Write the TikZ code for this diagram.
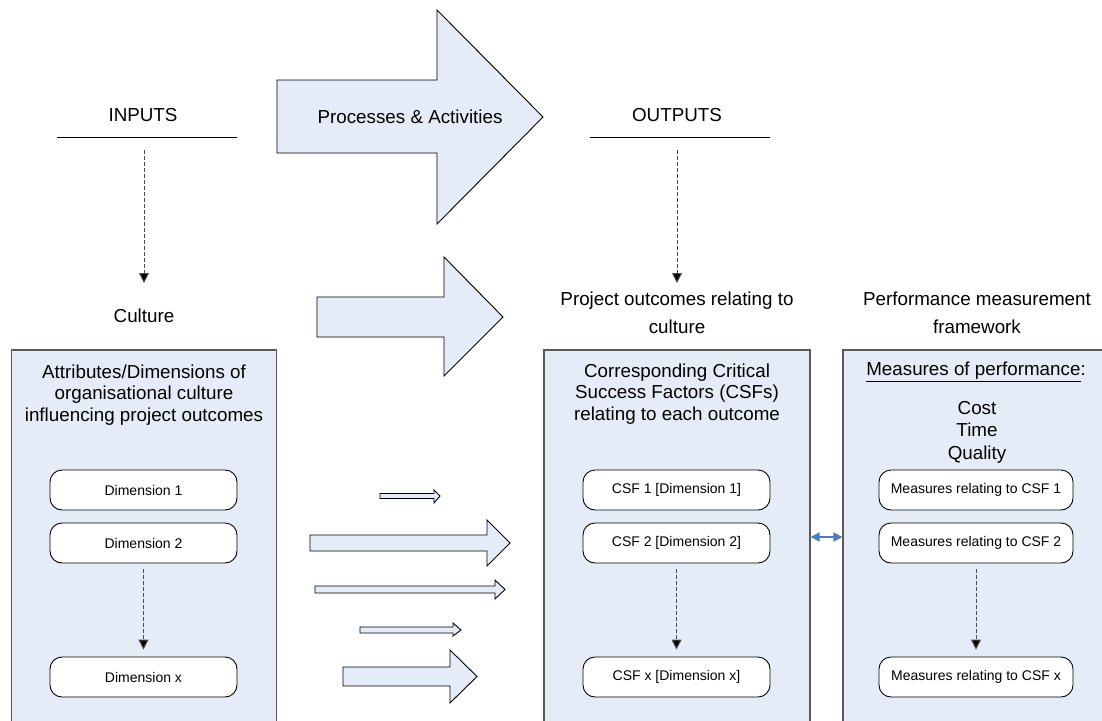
\documentclass[tikz,border=0pt]{standalone}
\usepackage{fontspec}
\setmainfont{Liberation Sans}
\usetikzlibrary{arrows.meta}
\definecolor{panelfill}{HTML}{E6ECF7}
\definecolor{panelline}{HTML}{5A5A5A}
\definecolor{linkblue}{HTML}{4A7CC6}
\newcommand{\bigfont}{\fontsize{18.8}{21.8}\selectfont}
\newcommand{\smallfont}{\fontsize{14}{16}\selectfont}
\newcommand{\blockarr}[8]{%
  \filldraw[blockarrow] (#1,#2) -- (#4,#2) -- (#4,#5) -- (#7,#8) -- (#4,#6) -- (#4,#3) -- (#1,#3) -- cycle;}
\tikzset{
  panel/.style={draw=panelline, fill=panelfill, line width=1.2pt, minimum height=374pt, inner sep=0pt},
  roundbox/.style={draw=black, fill=white, rounded corners=12pt, line width=0.9pt, minimum width=187pt, minimum height=40pt, inner sep=0pt, font=\smallfont},
  bigtext/.style={font=\bigfont, align=center, inner sep=0pt},
  blockarrow/.style={draw=black, fill=panelfill, line width=0.9pt, line join=miter},
  dasharrow/.style={draw=black!70, line width=1pt, dash pattern=on 4pt off 2pt, -{Triangle[width=10pt,length=10pt,fill=black]}},
  headline/.style={draw=black, line width=1pt},
  bluelink/.style={draw=linkblue, line width=1.5pt, {Triangle[width=9pt,length=9pt]}-{Triangle[width=9pt,length=9pt]}}
}
\begin{document}
\begin{tikzpicture}[x=1pt,y=-1pt]
\useasboundingbox (0,0) rectangle (1102,720);
\clip (0,0) rectangle (1102,720);
\fill[white] (0,0) rectangle (1102,720);
% big process arrows
\blockarr{277}{80}{153}{437}{10}{224}{543}{117}
\node[bigtext] (proc) at (410,117) {Processes \& Activities};
\blockarr{317}{297}{337}{444}{257}{376}{503}{317}
% headers
\node[bigtext] (inputs) at (143,115) {INPUTS};
\node[bigtext] (outputs) at (677,115) {OUTPUTS};
\coordinate (inL) at (57,137); \coordinate (inR) at (237,137);
\coordinate (outL) at (590,137); \coordinate (outR) at (770,137);
\draw[headline] (inL) -- (inR);
\draw[headline] (outL) -- (outR);
\coordinate (inS) at (144,150); \coordinate (inE) at (144,283);
\coordinate (outS) at (677,150); \coordinate (outE) at (677,283);
\draw[dasharrow] (inS) -- (inE);
\draw[dasharrow] (outS) -- (outE);
% column headings
\node[bigtext] (culture) at (144,316) {Culture};
\node[bigtext, font=\fontsize{18.8}{28.5}\selectfont] (projout) at (677,313) {Project outcomes relating to\\culture};
\node[bigtext, font=\fontsize{18.8}{28.5}\selectfont] (pmf) at (977,313) {Performance measurement\\framework};
% panels
\node[panel, minimum width=265pt] (left) at (144.2,537) {};
\node[panel, minimum width=266pt] (mid) at (677,537) {};
\node[panel, minimum width=269pt] (right) at (977.5,537) {};
\draw[bluelink] (mid.east) -- (right.west);
% panel titles
\node[bigtext] (lt) at (144,395) {Attributes/Dimensions of\\organisational culture\\influencing project outcomes};
\node[bigtext] (mt) at (677,394) {Corresponding Critical\\Success Factors (CSFs)\\relating to each outcome};
\node[bigtext] (rt) at (976,372) {\underline{Measures of performance}:};
\node[bigtext, font=\fontsize{18.8}{22.5}\selectfont] (ctq) at (977,432) {Cost\\Time\\Quality};
% rounded boxes
\node[roundbox] (d1) at (143.5,490) {Dimension 1};
\node[roundbox] (d2) at (143.5,543) {Dimension 2};
\node[roundbox] (dx) at (143.5,677) {Dimension x};
\node[roundbox] (c1) at (676.5,490) {CSF 1 [Dimension 1]};
\node[roundbox] (c2) at (676.5,543) {CSF 2 [Dimension 2]};
\node[roundbox] (cx) at (676.5,677) {CSF x [Dimension x]};
\node[roundbox, minimum width=194pt] (m1) at (976,490) {Measures relating to CSF 1};
\node[roundbox, minimum width=194pt] (m2) at (976,543) {Measures relating to CSF 2};
\node[roundbox, minimum width=194pt] (mx) at (976,677) {Measures relating to CSF x};
\draw[dasharrow, shorten <=6pt, shorten >=7pt] (d2) -- (dx);
\draw[dasharrow, shorten <=6pt, shorten >=7pt] (c2) -- (cx);
\draw[dasharrow, shorten <=6pt, shorten >=7pt] (m2) -- (mx);
% small arrows
\blockarr{380}{493.5}{498.5}{434}{490}{503}{440}{496}
\blockarr{310}{535}{551}{487}{520}{566}{510}{543}
\blockarr{315}{586}{593}{495}{580}{599}{505}{589.5}
\blockarr{360}{627}{633}{453}{623}{636}{461}{630}
\blockarr{343}{667}{686}{450}{650}{703}{477}{676.5}
\end{tikzpicture}
\end{document}
